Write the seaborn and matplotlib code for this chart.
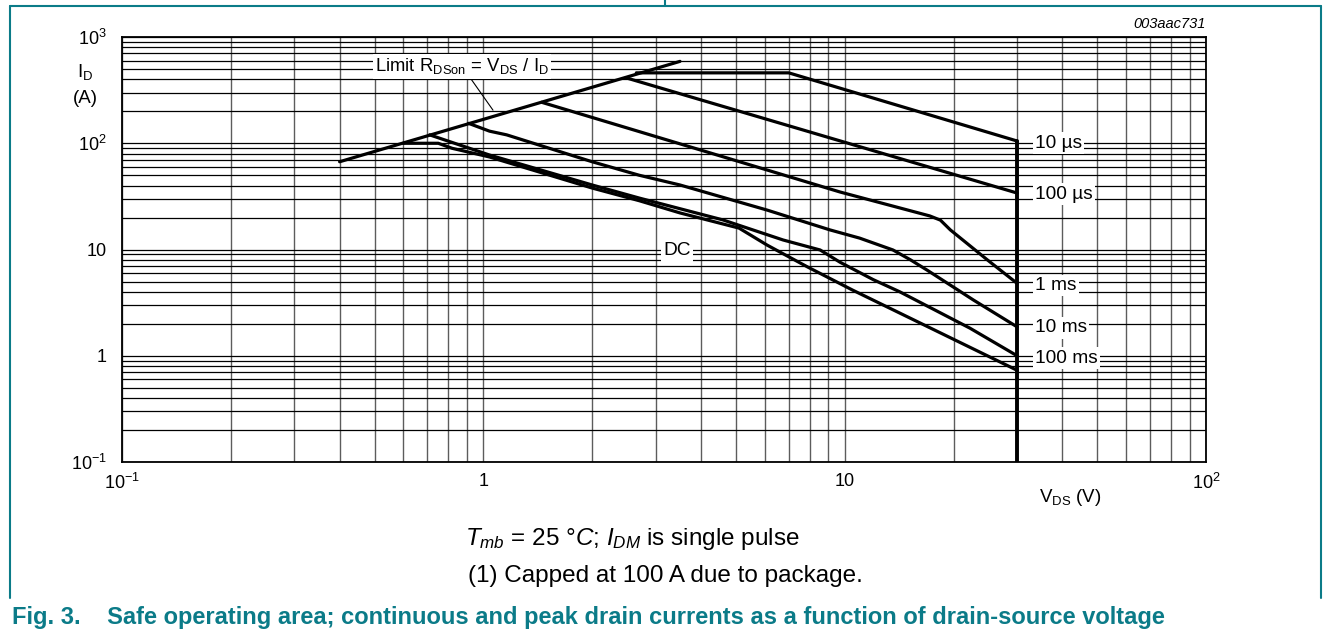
import numpy as np
import pandas as pd
import matplotlib
matplotlib.use("Agg")
import matplotlib.pyplot as plt
import seaborn as sns
from matplotlib.lines import Line2D
from matplotlib.ticker import LogLocator, NullFormatter

sns.set_style("white")
plt.rcParams['font.family'] = ['Liberation Sans', 'DejaVu Sans']
plt.rcParams['mathtext.fontset'] = 'custom'
plt.rcParams['mathtext.rm'] = 'Liberation Sans'
plt.rcParams['mathtext.it'] = 'Liberation Sans:italic'
plt.rcParams['mathtext.bf'] = 'Liberation Sans:bold'
plt.rcParams['text.color'] = 'black'
plt.rcParams['xtick.color'] = 'black'
plt.rcParams['ytick.color'] = 'black'

# values (V_DS in V, I_D in A)
rdson_v = [0.40, 3.5]
rdson_i = [67, 590]

us10_v = [2.65, 7.0, 30]
us10_i = [460, 460, 105]

us100_v = [2.5, 30]
us100_i = [410, 34]

ms1_v = [1.45, 6.1, 9.7, 17.2, 18.4, 19.6, 24.8, 30]
ms1_i = [243, 56, 34.8, 20.7, 18.9, 15.3, 8.0, 4.8]

ms10_v = [0.91, 1.04, 1.16, 2.0, 2.7, 3.5, 6.1, 9.1, 11.0, 13.6, 15.2, 16.9, 22.7, 30]
ms10_i = [154, 130, 120, 67, 50, 40.5, 23.5, 15.3, 12.8, 9.9, 8.0, 6.4, 3.35, 1.87]

ms100_v = [0.71, 1.04, 2.0, 2.7, 4.6, 6.75, 8.55, 9.7, 12.0, 14.2, 22.2, 30]
ms100_i = [120, 77.5, 40.5, 30.5, 19.0, 12.3, 9.9, 7.6, 5.2, 4.0, 1.82, 1.0]

dc_v = [0.6, 0.75, 0.82, 1.04, 2.0, 2.7, 3.5, 5.1, 6.1, 7.9, 10.5, 30]
dc_i = [100, 100, 89.6, 74.3, 37.9, 28.8, 22.1, 15.9, 11.0, 6.84, 4.16, 0.73]

# V_DS max boundary
vmax_v = [30, 30]
vmax_i = [105, 0.1]

curve_labels = ['10 µs', '100 µs', '1 ms', '10 ms', '100 ms']
curve_label_i = [100, 33.3, 4.6, 1.83, 0.95]

x_ticks = [0.1, 1, 10, 100]
x_tick_labels = [r'$\mathregular{10^{-1}}$', '1', '10', r'$\mathregular{10^{2}}$']
y_ticks = [0.1, 1, 10, 100, 1000]
y_tick_labels = [r'$\mathregular{10^{-1}}$', '1', '10', r'$\mathregular{10^{2}}$', r'$\mathregular{10^{3}}$']

curves = {
    'rdson': (rdson_v, rdson_i),
    '10us': (us10_v, us10_i),
    '100us': (us100_v, us100_i),
    '1ms': (ms1_v, ms1_i),
    '10ms': (ms10_v, ms10_i),
    '100ms': (ms100_v, ms100_i),
    'dc': (dc_v, dc_i),
}
df = pd.concat([pd.DataFrame({'V': v, 'I': i, 'curve': k}) for k, (v, i) in curves.items()],
               ignore_index=True)
df_max = pd.DataFrame({'V': vmax_v, 'I': vmax_i, 'curve': 'vmax'})

fig = plt.figure(figsize=(13.28, 6.35), dpi=100)
ax = fig.add_axes([0.0919, 0.2724, 0.8163, 0.6693])
ax.set_xscale('log')
ax.set_yscale('log')

sns.lineplot(data=df, x='V', y='I', hue='curve', units='curve', estimator=None, sort=False,
             palette={k: 'black' for k in curves}, legend=False, linewidth=2.3, ax=ax, zorder=3)
sns.lineplot(data=df_max, x='V', y='I', estimator=None, sort=False, color='black',
             linewidth=2.8, ax=ax, zorder=3)

ax.set_xlim(0.1, 100)
ax.set_ylim(0.1, 1000)

# grid
ax.xaxis.set_minor_locator(LogLocator(base=10, subs=np.arange(2, 10)))
ax.yaxis.set_minor_locator(LogLocator(base=10, subs=np.arange(2, 10)))
ax.xaxis.set_minor_formatter(NullFormatter())
ax.yaxis.set_minor_formatter(NullFormatter())
ax.xaxis.grid(True, which='both', color='#5c5c5c', lw=1.0)
ax.yaxis.grid(True, which='both', color='black', lw=0.9)
ax.set_axisbelow(True)

ax.set_xticks(x_ticks)
ax.set_xticklabels(x_tick_labels)
ax.set_yticks(y_ticks)
ax.set_yticklabels(y_tick_labels)
ax.tick_params(which='both', length=0, labelsize=13, colors='black')
ax.tick_params(axis='x', pad=8)
ax.tick_params(axis='y', pad=11)
ax.set_xlabel('')
ax.set_ylabel('')
for s in ax.spines.values():
    s.set_color('black')
    s.set_linewidth(1.3)

box = dict(boxstyle='square,pad=0.12', fc='white', ec='none')
for lab, iv in zip(curve_labels, curve_label_i):
    ax.text(33.6, iv, lab, ha='left', va='center', fontsize=13.8, bbox=box, zorder=6)
ax.text(3.44, 9.7, 'DC', ha='center', va='center', fontsize=13.8, bbox=box, zorder=6)

ax.annotate(r'Limit R$_{\mathregular{DSon}}$ = V$_{\mathregular{DS}}$ / I$_{\mathregular{D}}$',
            xy=(1.063, 205), xytext=(0.873, 530), ha='center', va='center', fontsize=13.3,
            bbox=box, zorder=6,
            arrowprops=dict(arrowstyle='-', color='black', lw=0.8, shrinkA=0, shrinkB=0))

ax.text(1.0, 1.015, '003aac731', transform=ax.transAxes, ha='right', va='bottom',
        fontsize=10.5, style='italic')

# axis labels
fig.text(0.0640, 0.887, r'I$_{\mathregular{D}}$', ha='center', va='center', fontsize=13.5)
fig.text(0.0640, 0.845, '(A)', ha='center', va='center', fontsize=13.5)
fig.text(0.806, 0.217, r'V$_{\mathregular{DS}}$ (V)', ha='center', va='center', fontsize=13.5)

# notes and caption
fig.text(0.476, 0.151, r'$T_{mb}$ = 25 °$C$; $I_{DM}$ is single pulse', ha='center', va='center',
         fontsize=17.5)
fig.text(0.501, 0.093, '(1) Capped at 100 A due to package.', ha='center', va='center', fontsize=17.5)
teal = '#0b7b88'
fig.text(0.009, 0.028, 'Fig. 3.    Safe operating area; continuous and peak drain currents as a function '
         'of drain-source voltage', ha='left', va='center', fontsize=17, fontweight='bold', color=teal)

# page table borders
fig.add_artist(Line2D([0.0075, 0.9947], [0.9906, 0.9906], color=teal, lw=1.5))
fig.add_artist(Line2D([0.5008, 0.5008], [0.9906, 1.0], color=teal, lw=1.5))
fig.add_artist(Line2D([0.0075, 0.0075], [0.058, 0.9906], color=teal, lw=1.5))
fig.add_artist(Line2D([0.9947, 0.9947], [0.058, 0.9906], color=teal, lw=1.5))

fig.savefig('out.png', dpi=100)
